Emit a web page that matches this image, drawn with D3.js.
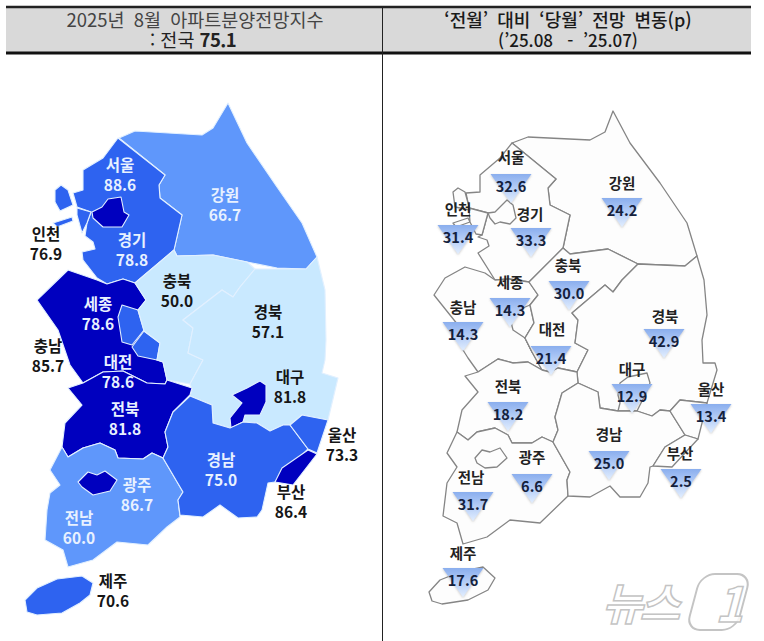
<!DOCTYPE html>
<html lang="ko">
<head>
<meta charset="utf-8">
<script src="https://cdn.jsdelivr.net/npm/d3@7"></script>
<style>
  html, body { margin: 0; padding: 0; background: #fff; }
  svg { display: block; font-family: "Noto Sans CJK KR", "Noto Sans", sans-serif; }
</style>
</head>
<body>
<svg id="chart" width="764" height="641"></svg>
<script>
const regions = ['강원', '경기', '인천', '서울', '충남', '세종', '대전', '충북', '경북', '대구', '전북', '전남', '광주', '경남', '울산', '부산', '제주'];
const indexValues = [66.7, 78.8, 76.9, 88.6, 85.7, 78.6, 78.6, 50.0, 57.1, 81.8, 81.8, 60.0, 86.7, 75.0, 73.3, 86.4, 70.6];
const changeValues = [24.2, 33.3, 31.4, 32.6, 14.3, 14.3, 21.4, 30.0, 42.9, 12.9, 18.2, 31.7, 6.6, 25.0, 13.4, 2.5, 17.6];

const nationalIndex = 75.1;
const colorBreaks = [60, 70, 80];
const colorSteps = ['#c9e9ff', '#5f97fb', '#2e63f0', '#0000bf'];

// outlines, one ring list per region
const leftOutlines = {
  '강원': [[[119,138],[135,131],[202,135],[213,128],[228,103],[247,143],[277,187],[302,223],[317,257],[306,269],[277,268],[247,262],[213,255],[177,256],[174,250],[182,215],[160,198],[159,185],[165,175]]],
  '경기': [[[118,138],[165,175],[159,185],[160,198],[182,215],[174,250],[135,283],[123,279],[107,284],[97,278],[83,260],[82,252],[95,249],[93,242],[85,236],[87,223],[91,212],[77,207],[73,193],[83,190],[83,170],[103,158]]],
  '인천': [[[77,208],[91,212],[87,223],[82,233],[77,215]], [[55,190],[61,185],[68,190],[73,205],[60,211],[55,202]], [[53,223],[72,217],[73,221],[57,227]]],
  '서울': [[[92,212],[102,207],[108,199],[121,197],[124,212],[129,215],[122,227],[103,227],[93,218]]],
  '충남': [[[37,300],[68,270],[97,280],[107,284],[123,279],[135,283],[146,300],[138,310],[144,331],[160,343],[157,360],[163,362],[167,380],[165,384],[147,383],[123,371],[103,372],[83,383],[70,365],[58,330]]],
  '세종': [[[118,317],[122,305],[138,310],[144,330],[132,345],[122,342]]],
  '대전': [[[132,347],[144,331],[160,343],[157,360],[138,356]]],
  '충북': [[[135,283],[174,250],[177,256],[213,255],[247,262],[255,269],[240,287],[233,297],[222,290],[183,320],[193,328],[188,353],[203,360],[190,384],[167,380],[163,362],[157,360],[160,343],[144,331],[138,310],[146,300]]],
  '경북': [[[255,269],[306,269],[317,257],[325,290],[326,340],[325,360],[322,373],[338,378],[328,420],[302,415],[290,425],[283,425],[270,431],[257,423],[245,422],[230,428],[213,423],[212,405],[190,396],[192,389],[190,384],[203,360],[188,353],[193,328],[183,320],[222,290],[233,297],[240,287]]],
  '대구': [[[232,395],[247,388],[260,381],[266,385],[266,402],[260,415],[245,415],[243,422],[231,428],[230,418],[242,403]]],
  '전북': [[[68,388],[83,383],[103,372],[123,371],[147,383],[165,384],[167,380],[192,388],[190,395],[173,412],[165,432],[168,447],[163,458],[152,453],[143,459],[118,458],[115,450],[100,443],[83,448],[68,457],[62,447],[65,423],[82,405]]],
  '전남': [[[62,447],[68,457],[83,448],[100,443],[115,450],[118,458],[143,459],[152,453],[163,458],[183,492],[178,500],[180,517],[167,527],[148,545],[117,542],[93,560],[68,567],[63,550],[45,540],[47,510],[50,493],[60,485],[50,470]]],
  '광주': [[[78,482],[88,472],[97,475],[105,471],[117,480],[110,491],[93,495],[82,487]]],
  '경남': [[[190,396],[212,405],[213,423],[230,428],[243,422],[257,423],[270,431],[283,425],[290,425],[308,449],[275,482],[268,483],[262,510],[257,517],[238,518],[220,505],[203,517],[180,515],[178,500],[183,492],[163,458],[168,447],[165,432],[173,412]]],
  '울산': [[[290,425],[302,415],[328,420],[317,453],[308,449]]],
  '부산': [[[308,450],[317,454],[293,485],[275,482],[282,468]]],
  '제주': [[[25,600],[37,588],[57,579],[82,576],[93,583],[90,595],[80,603],[62,613],[37,615],[27,612]]],
};

const rightOutlines = {
  '강원': [[[512,143],[528,137],[590,140],[605,132],[613,111],[630,143],[660,183],[687,223],[697,256],[685,266],[638,264],[608,249],[570,254],[563,248],[570,215],[550,205],[548,188],[556,179]]],
  '경기': [[[512,143],[556,179],[548,188],[550,205],[570,215],[563,248],[529,282],[509,279],[495,280],[478,253],[489,246],[487,240],[478,237],[482,235],[488,213],[469,208],[466,193],[480,192],[480,175],[500,158]]],
  '인천': [[[469,208],[488,213],[482,235],[476,234],[470,222]], [[453,192],[458,188],[465,192],[470,210],[455,207]], [[453,223],[468,218],[470,222],[456,227]]],
  '서울': [[[488,213],[495,212],[507,200],[513,205],[516,218],[510,224],[500,222],[495,224],[490,218]]],
  '충남': [[[434,295],[445,278],[465,267],[485,273],[495,280],[509,279],[529,282],[538,295],[530,305],[534,323],[525,338],[532,352],[542,370],[528,362],[513,363],[498,359],[478,372],[468,358],[463,350],[458,325]]],
  '세종': [[[530,305],[534,323],[525,338],[513,330],[511,322],[518,310]]],
  '대전': [[[534,323],[547,335],[547,347],[532,352],[525,338]]],
  '충북': [[[529,282],[563,248],[570,254],[608,249],[638,264],[622,280],[613,292],[605,285],[572,313],[578,320],[575,343],[588,350],[577,372],[558,368],[550,372],[542,370],[532,352],[525,338],[534,323],[530,305],[538,295]]],
  '경북': [[[638,264],[685,266],[697,256],[704,280],[707,315],[702,340],[703,363],[715,363],[717,370],[707,403],[680,400],[670,411],[660,410],[652,416],[637,411],[618,411],[600,408],[598,392],[578,383],[577,372],[588,350],[575,343],[578,320],[572,313],[605,285],[613,292],[622,280]]],
  '대구': [[[618,411],[620,403],[618,395],[620,383],[628,377],[647,373],[650,383],[645,395],[637,411]]],
  '전북': [[[465,376],[478,372],[498,359],[513,363],[528,362],[542,370],[550,372],[558,368],[577,372],[578,383],[562,393],[555,417],[558,430],[553,442],[542,437],[532,443],[512,443],[508,435],[495,428],[477,432],[468,440],[457,432],[462,410],[478,392]]],
  '전남': [[[457,432],[468,440],[477,432],[495,428],[508,435],[512,443],[532,443],[542,437],[553,442],[570,472],[567,480],[568,496],[540,523],[510,520],[487,537],[463,544],[457,523],[443,516],[447,483],[457,467],[447,453]]],
  '광주': [[[475,458],[482,450],[490,452],[500,448],[507,458],[497,467],[485,468],[477,463]]],
  '경남': [[[578,383],[598,392],[600,408],[618,411],[637,411],[652,416],[660,410],[670,411],[685,435],[665,447],[653,466],[650,467],[648,483],[640,497],[620,497],[610,486],[590,497],[568,496],[567,480],[570,472],[553,442],[558,430],[555,417],[562,393]]],
  '울산': [[[670,411],[680,400],[707,403],[698,439],[685,435]]],
  '부산': [[[685,435],[698,439],[672,467],[653,466],[665,447]]],
  '제주': [[[429,592],[440,580],[460,572],[483,567],[495,578],[488,590],[468,600],[442,604],[432,601]]],
};

// [x, y of the name line] per region, left map
const leftLabelAt = {
  '서울': [120,165], '강원': [225,195], '경기': [132,240], '인천': [46,234], '충북': [177,281],
  '경북': [268,312], '세종': [98,304], '충남': [48,346], '대전': [118,362], '대구': [290,377],
  '전북': [125,409], '울산': [342,435], '경남': [221,460], '부산': [291,492], '광주': [137,485],
  '전남': [79,518], '제주': [113,581],
};
// the labels that sit on a filled region are drawn light
const lightLabels = ['서울', '강원', '경기', '세종', '대전', '전북', '경남', '광주', '전남'];

// [x, top of the triangle] per region, right map
const triangleAt = {
  '서울': [511,174], '강원': [622,198], '인천': [458,225], '경기': [531,228], '충북': [569,281],
  '세종': [510,298], '충남': [463,322], '대전': [551,346], '경북': [664,329], '전북': [508,402],
  '대구': [632,384], '울산': [711,404], '경남': [609,451], '부산': [681,469], '광주': [532,474],
  '전남': [473,492], '제주': [463,568],
};
// name line relative to the triangle, [dx, baseline dy]
const rightNameAt = {
  '서울': [0,-11], '강원': [0,-9], '인천': [0,-10], '경기': [-1,-8], '충북': [-1,-10],
  '세종': [0,-10], '충남': [0,-9], '대전': [1,-11], '경북': [1,-7], '전북': [0,-10],
  '대구': [0,-9], '울산': [0,-9], '경남': [0,-11], '부산': [-1,-10], '광주': [0,-11],
  '전남': [-2,-9], '제주': [0,-9],
};

const svg = d3.select('#chart');
const color = d3.scaleThreshold().domain(colorBreaks).range(colorSteps);
const mapPath = d3.geoPath().projection(d3.geoIdentity());

const toFeature = (name, i, outlines) => ({
  type: 'Feature',
  properties: { name, index: indexValues[i], change: changeValues[i] },
  geometry: { type: 'MultiPolygon', coordinates: outlines[name].map((ring) => [[...ring, ring[0]]]) },
});
const leftFeatures = regions.map((name, i) => toFeature(name, i, leftOutlines));
const rightFeatures = regions.map((name, i) => toFeature(name, i, rightOutlines));

const defs = svg.append('defs');
const grad = defs.append('linearGradient').attr('id', 'tri').attr('x1', 0).attr('y1', 0).attr('x2', 0).attr('y2', 1);
grad.append('stop').attr('offset', '0%').attr('stop-color', '#8aaeee');
grad.append('stop').attr('offset', '100%').attr('stop-color', '#e2eeff');
defs.append('filter').attr('id', 'triShadow')
  .attr('x', '-20%').attr('y', '-20%').attr('width', '140%').attr('height', '140%')
  .append('feDropShadow').attr('dx', 0).attr('dy', 1).attr('stdDeviation', 1)
  .attr('flood-color', '#777').attr('flood-opacity', 0.4);

/** header band */
svg.append('rect').attr('x', 6).attr('y', 7).attr('width', 745).attr('height', 45).attr('fill', '#d9d9d9');
svg.append('line').attr('x1', 6).attr('x2', 751).attr('y1', 7).attr('y2', 7).attr('stroke', '#222').attr('stroke-width', 2.5);
svg.append('line').attr('x1', 6).attr('x2', 751).attr('y1', 53).attr('y2', 53).attr('stroke', '#111').attr('stroke-width', 3);
svg.append('line').attr('x1', 382.5).attr('x2', 382.5).attr('y1', 8).attr('y2', 641).attr('stroke', '#222').attr('stroke-width', 1);

const leftTitle = svg.append('text').attr('text-anchor', 'middle').attr('font-size', 18.5);
leftTitle.append('tspan').attr('x', 195).attr('y', 27).attr('word-spacing', 4).attr('fill', '#444')
  .text('2025년 8월 아파트분양전망지수');
const leftSub = leftTitle.append('tspan').attr('x', 193).attr('y', 47).attr('fill', '#222');
leftSub.append('tspan').text(':  전국 ');
leftSub.append('tspan').attr('font-weight', 700).attr('letter-spacing', -0.6).text(nationalIndex);

const rightTitle = svg.append('text').attr('text-anchor', 'middle').attr('font-weight', 500).attr('fill', '#1a1a1a');
rightTitle.append('tspan').attr('x', 568).attr('y', 27).attr('font-size', 18).attr('word-spacing', 4)
  .text('‘전월’ 대비 ‘당월’ 전망 변동(p)');
rightTitle.append('tspan').attr('x', 568).attr('y', 47).attr('font-size', 17)
  .text('(’25.08\u00a0\u00a0 -\u00a0\u00a0’25.07)');

/** left map: index level */
svg.append('g').selectAll('path')
  .data(leftFeatures)
  .enter()
  .append('path')
  .attr('d', mapPath)
  .attr('fill', (d) => color(d.properties.index))
  .attr('stroke', '#e2f0ff')
  .attr('stroke-width', 1.1)
  .attr('stroke-linejoin', 'round');

const leftLabels = svg.append('g').attr('text-anchor', 'middle').attr('font-weight', 700).attr('font-size', 15.5)
  .selectAll('g')
  .data(leftFeatures)
  .enter()
  .append('g')
  .attr('transform', (d) => `translate(${leftLabelAt[d.properties.name]})`)
  .attr('fill', (d) => (lightLabels.includes(d.properties.name) ? '#e8f1ff' : '#161616'));
leftLabels.append('text').attr('y', 5.5).text((d) => d.properties.name);
leftLabels.append('text').attr('y', 26).text((d) => d.properties.index.toFixed(1));

/** right map: change from last month */
svg.append('g').selectAll('path')
  .data(rightFeatures)
  .enter()
  .append('path')
  .attr('d', mapPath)
  .attr('fill', '#fdfdfd')
  .attr('stroke', '#858585')
  .attr('stroke-width', 1.3)
  .attr('stroke-linejoin', 'round');

const triangle = d3.line();
const markers = svg.append('g').attr('text-anchor', 'middle')
  .selectAll('g')
  .data(rightFeatures)
  .enter()
  .append('g')
  .attr('transform', (d) => `translate(${triangleAt[d.properties.name]})`);
markers.append('path')
  .attr('d', triangle([[-20.5, 0], [20.5, 0], [0, 29]]) + 'Z')
  .attr('fill', 'url(#tri)')
  .attr('filter', 'url(#triShadow)');
markers.append('text')
  .attr('x', (d) => rightNameAt[d.properties.name][0])
  .attr('y', (d) => rightNameAt[d.properties.name][1])
  .attr('font-size', 14.5).attr('font-weight', 700).attr('fill', '#222')
  .text((d) => d.properties.name);
markers.append('text').attr('y', 18).attr('font-size', 14.5).attr('font-weight', 700).attr('fill', '#14213d')
  .text((d) => d.properties.change.toFixed(1));

/** agency mark */
const mark = svg.append('g').attr('fill', '#fff').attr('fill-opacity', 0.85).attr('stroke', '#c4c4c4').attr('stroke-width', 1.5);
mark.append('text').attr('transform', 'translate(602,620) skewX(-15)')
  .attr('font-size', 44).attr('font-weight', 700).attr('letter-spacing', -3).text('뉴스');
mark.append('rect').attr('x', 0).attr('y', 0).attr('width', 50).attr('height', 56).attr('rx', 14)
  .attr('transform', 'translate(701,574) skewX(-15)').attr('stroke-width', 2);
mark.append('text').attr('transform', 'translate(715,622) skewX(-15)')
  .attr('font-size', 48).attr('font-weight', 700).text('1');
</script>
</body>
</html>
